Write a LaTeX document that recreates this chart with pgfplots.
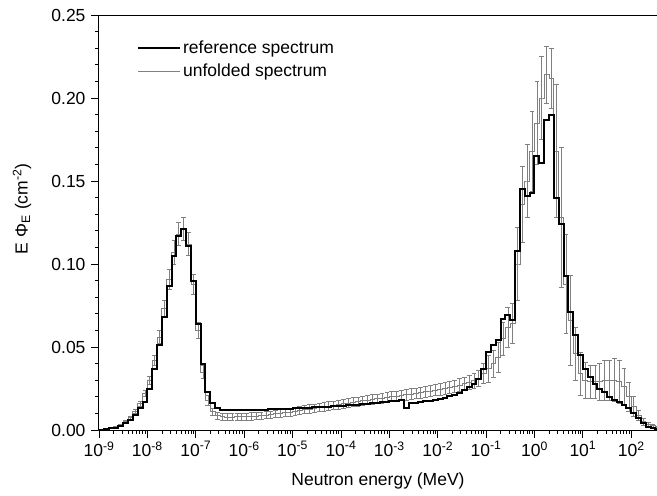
\documentclass[border=0pt]{standalone}
\usepackage{fontspec}
\setmainfont{Liberation Sans}
\usepackage{pgfplots}
\usepackage{pgfplotstable}
\pgfplotsset{compat=1.18}
\definecolor{unf}{RGB}{128,128,128}

\pgfplotstableread{
E ref unf err
1.0e-9 0.0000 0.0000 0.0000
1.122e-9 0.0002 0.0003 0.0001
1.413e-9 0.0005 0.0006 0.0002
1.778e-9 0.0010 0.0012 0.0003
2.239e-9 0.0015 0.0020 0.0004
2.818e-9 0.0025 0.0032 0.0005
3.548e-9 0.0040 0.0050 0.0007
4.467e-9 0.0060 0.0075 0.0010
5.623e-9 0.0090 0.0110 0.0012
7.079e-9 0.0130 0.0160 0.0015
8.913e-9 0.0170 0.0220 0.0020
1.122e-8 0.025 0.030 0.0025
1.413e-8 0.037 0.042 0.003
1.778e-8 0.051 0.056 0.004
2.239e-8 0.068 0.073 0.005
2.818e-8 0.087 0.091 0.006
3.548e-8 0.105 0.107 0.007
4.467e-8 0.117 0.118 0.007
5.623e-8 0.121 0.121 0.007
7.079e-8 0.111 0.112 0.007
8.913e-8 0.090 0.088 0.006
1.122e-7 0.064 0.060 0.005
1.413e-7 0.040 0.035 0.004
1.778e-7 0.023 0.018 0.003
2.239e-7 0.016 0.011 0.0022
2.818e-7 0.0130 0.0085 0.0022
3.548e-7 0.0122 0.0079 0.0022
4.467e-7 0.0121 0.0078 0.0022
5.623e-7 0.0120 0.0078 0.0022
7.079e-7 0.0120 0.0079 0.0022
8.913e-7 0.0120 0.0079 0.0022
1.122e-6 0.0120 0.0080 0.0022
1.413e-6 0.0121 0.0082 0.0022
1.778e-6 0.0122 0.0084 0.0022
2.239e-6 0.0122 0.0087 0.0022
2.818e-6 0.0123 0.0090 0.0022
3.548e-6 0.0124 0.0093 0.0022
4.467e-6 0.0125 0.0097 0.0023
5.623e-6 0.0126 0.0100 0.0023
7.079e-6 0.0127 0.0104 0.0023
8.913e-6 0.0128 0.0108 0.0023
1.122e-5 0.0130 0.0112 0.0024
1.413e-5 0.0131 0.0117 0.0024
1.778e-5 0.0133 0.0122 0.0024
2.239e-5 0.0134 0.0127 0.0025
2.818e-5 0.0136 0.0132 0.0025
3.548e-5 0.0137 0.0136 0.0025
4.467e-5 0.0139 0.0140 0.0025
5.623e-5 0.0140 0.0144 0.0026
7.079e-5 0.0142 0.0148 0.0026
8.913e-5 0.0144 0.0153 0.0026
1.122e-4 0.0146 0.0158 0.0027
1.413e-4 0.0148 0.0162 0.0027
1.778e-4 0.0150 0.0167 0.0027
2.239e-4 0.0152 0.0171 0.0028
2.818e-4 0.0155 0.0176 0.0028
3.548e-4 0.0158 0.0180 0.0028
4.467e-4 0.0161 0.0184 0.0029
5.623e-4 0.0164 0.0188 0.0029
7.079e-4 0.0167 0.0192 0.0030
8.913e-4 0.0170 0.0196 0.0030
1.122e-3 0.0172 0.0200 0.0030
1.413e-3 0.0175 0.0204 0.0031
1.778e-3 0.0178 0.0208 0.0031
2.239e-3 0.0135 0.0212 0.0031
2.818e-3 0.0160 0.0216 0.0032
3.548e-3 0.0163 0.0221 0.0032
4.467e-3 0.0167 0.0225 0.0033
5.623e-3 0.0172 0.0230 0.0033
7.079e-3 0.0177 0.0235 0.0034
8.913e-3 0.0182 0.0240 0.0034
1.122e-2 0.0188 0.0245 0.0035
1.413e-2 0.0195 0.0251 0.0035
1.778e-2 0.0202 0.0257 0.0036
2.239e-2 0.0212 0.0264 0.0037
2.818e-2 0.0225 0.0271 0.0038
3.548e-2 0.0240 0.0278 0.0040
4.467e-2 0.0260 0.0286 0.0042
5.623e-2 0.0280 0.0296 0.0045
7.079e-2 0.0310 0.0310 0.0050
8.913e-2 0.0370 0.0340 0.0060
1.122e-1 0.047 0.037 0.008
1.413e-1 0.051 0.040 0.008
1.778e-1 0.054 0.044 0.009
2.239e-1 0.067 0.055 0.010
2.818e-1 0.069 0.062 0.012
3.548e-1 0.066 0.064 0.012
4.467e-1 0.108 0.100 0.022
5.623e-1 0.145 0.136 0.023
7.079e-1 0.141 0.150 0.022
8.913e-1 0.143 0.168 0.024
1.122 0.165 0.185 0.025
1.413 0.161 0.200 0.025
1.778 0.187 0.214 0.017
2.239 0.190 0.212 0.018
2.818 0.140 0.168 0.040
3.548 0.124 0.128 0.042
4.467 0.093 0.088 0.030
5.623 0.071 0.066 0.027
7.079 0.057 0.046 0.016
8.913 0.045 0.034 0.013
11.22 0.037 0.030 0.011
14.13 0.032 0.029 0.010
17.78 0.028 0.029 0.010
22.39 0.025 0.029 0.011
28.18 0.023 0.030 0.012
35.48 0.020 0.030 0.012
44.67 0.018 0.030 0.013
56.23 0.017 0.029 0.013
70.79 0.015 0.026 0.011
89.13 0.013 0.020 0.009
112.2 0.010 0.014 0.006
141.3 0.007 0.009 0.003
177.8 0.004 0.005 0.002
223.9 0.002 0.0035 0.001
281.8 0.001 0.0025 0.0008
354.8 0.0005 0.002 0.0005
}\spec

\begin{document}
\begin{tikzpicture}
\begin{axis}[
  scale only axis, width=558pt, height=415pt,
  xmode=log, xmin=1e-9, xmax=340, ymin=0, ymax=0.25,
  axis x line*=box, axis y line*=left,
  xtick pos=left, ytick pos=left,
  tick align=outside,
  major tick length=8pt, minor tick length=4pt,
  every tick/.style={black, line width=0.8pt},
  axis line style={line width=1pt},
  xtick={1e-9,1e-8,1e-7,1e-6,1e-5,1e-4,1e-3,1e-2,1e-1,1,10,100},
  xticklabels={10\textsuperscript{-9},10\textsuperscript{-8},10\textsuperscript{-7},10\textsuperscript{-6},10\textsuperscript{-5},10\textsuperscript{-4},10\textsuperscript{-3},10\textsuperscript{-2},10\textsuperscript{-1},10\textsuperscript{0},10\textsuperscript{1},10\textsuperscript{2}},
  ytick={0,0.05,0.10,0.15,0.20,0.25},
  minor y tick num=4,
  /pgf/number format/assume math mode=true,
  yticklabel style={xshift=-2pt, /pgf/number format/.cd, fixed, fixed zerofill, precision=2},
  tick label style={font=\fontsize{17.5}{20}\selectfont},
  label style={font=\fontsize{17.5}{20}\selectfont},
  xlabel={Neutron energy (MeV)},
  ylabel={E Φ\textsubscript{E} (cm\textsuperscript{-2})},
  xlabel style={at={(axis description cs:0.5,-0.122)}, anchor=center},
  ylabel style={at={(axis description cs:-0.138,0.533)}, anchor=center},
  legend image code/.code={\draw[#1] (0pt,0pt) -- (42pt,0pt);},
  legend style={draw=none, fill=none, at={(axis description cs:0.068,0.943)}, anchor=north west,
    font=\fontsize{17.5}{20}\selectfont, inner sep=0pt, row sep=5pt,
    nodes={inner sep=2pt}},
  legend cell align=left,
  reverse legend,
]
\addplot[const plot mark mid, color=unf, line width=0.8pt, no marks,
  error bars/.cd, y dir=both, y explicit,
  error mark=|,
  error bar style={color=unf, line width=0.7pt},
  error mark options={color=unf, line width=0.7pt, mark size=2.4pt}]
  table[x=E, y=unf, y error=err]{\spec};
\addlegendentry{unfolded spectrum}
\addplot[const plot mark mid, color=black, line width=2pt, no marks]
  table[x=E, y=ref]{\spec};
\addlegendentry{reference spectrum}
\end{axis}
\pgfresetboundingbox
\path[use as bounding box] (-99pt,-66pt) rectangle (558pt,430pt);
\end{tikzpicture}
\end{document}
